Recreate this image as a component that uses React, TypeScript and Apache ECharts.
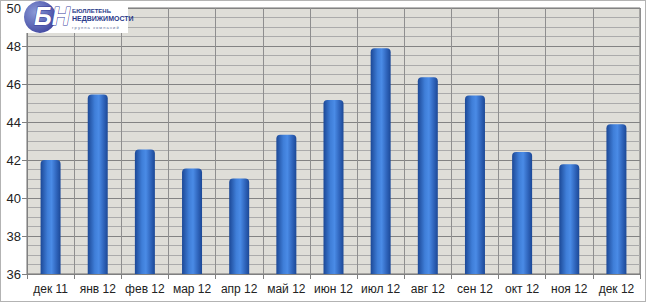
import React, { useEffect, useRef } from "react";
import * as echarts from "echarts";

const categories = ["дек 11", "янв 12", "фев 12", "мар 12", "апр 12", "май 12", "июн 12", "июл 12", "авг 12", "сен 12", "окт 12", "ноя 12", "дек 12"];
const values = [42.0, 45.45, 42.55, 41.55, 41.02, 43.33, 45.16, 47.88, 46.35, 45.4, 42.42, 41.78, 43.88];
const yMin = 36;
const yMax = 50;
const yStep = 2;

export default function App() {
  const ref = useRef<HTMLDivElement>(null);
  useEffect(() => {
    if (!ref.current) return;
    const chart = echarts.init(ref.current, null, { renderer: "svg" });
    const barGrad = new echarts.graphic.LinearGradient(0, 0, 1, 0, [
      { offset: 0, color: "#1c4896" },
      { offset: 0.35, color: "#3f7ed8" },
      { offset: 0.55, color: "#4a8be6" },
      { offset: 0.8, color: "#2f64bb" },
      { offset: 1, color: "#1c4896" },
    ]);
    chart.setOption({
      animation: false,
      backgroundColor: "#ffffff",
      textStyle: { fontFamily: "Liberation Sans, Arial, sans-serif" },
      grid: {
        left: 27,
        right: 7,
        top: 8,
        bottom: 29,
        show: true,
        backgroundColor: "#dfded8",
        borderColor: "#707070",
        borderWidth: 1,
      },
      xAxis: {
        type: "category",
        data: categories,
        boundaryGap: true,
        axisLine: { show: true, lineStyle: { color: "#808080" } },
        axisTick: { show: true, interval: 0, length: 5, lineStyle: { color: "#808080" } },
        axisLabel: { color: "#222", fontSize: 12, margin: 9, interval: 0 },
        splitLine: { show: true, interval: 0, lineStyle: { color: "#8f8f8f", width: 1 } },
      },
      yAxis: {
        type: "value",
        min: yMin,
        max: yMax,
        interval: yStep,
        axisLine: { show: true, lineStyle: { color: "#808080" } },
        axisTick: { show: true, length: 5, lineStyle: { color: "#808080" } },
        axisLabel: { color: "#222", fontSize: 13, margin: 6 },
        splitLine: { show: true, lineStyle: { color: "#838383", width: 1 } },
        minorTick: { show: false, splitNumber: 4 },
        minorSplitLine: { show: true, lineStyle: { color: "#ababab", width: 1 } },
      },
      series: [
        {
          type: "bar",
          data: values,
          barWidth: 20,
          itemStyle: { color: barGrad, borderRadius: [4, 4, 0, 0] },
        },
      ],
      graphic: [
        { type: "rect", shape: { x: 22, y: 0, width: 106, height: 33 }, style: { fill: "#ffffff" }, z: 100 },
        {
          type: "circle",
          shape: { cx: 40, cy: 17, r: 16 },
          style: {
            fill: new echarts.graphic.RadialGradient(0.35, 0.35, 0.8, [
              { offset: 0, color: "#8a9ad8" },
              { offset: 1, color: "#3a3f9a" },
            ]),
          },
          z: 101,
        },
        {
          type: "text",
          x: 34,
          y: 3,
          style: { text: "БН", fill: "#ffffff", stroke: "#3a3f9a", lineWidth: 1, font: "italic bold 25px Liberation Sans, Arial, sans-serif" },
          z: 102,
        },
        {
          type: "text",
          x: 72,
          y: 8,
          style: { text: "БЮЛЛЕТЕНЬ", fill: "#2a3a8a", font: "bold 6px Liberation Sans, Arial, sans-serif" },
          z: 102,
        },
        {
          type: "text",
          x: 72,
          y: 15,
          style: { text: "НЕДВИЖИМОСТИ", fill: "#2a3a8a", font: "bold 7px Liberation Sans, Arial, sans-serif" },
          z: 102,
        },
        {
          type: "text",
          x: 72,
          y: 25,
          style: { text: "г р у п п а   к о м п а н и й", fill: "#5a6a9a", font: "4px Liberation Sans, Arial, sans-serif" },
          z: 102,
        },
        {
          type: "rect",
          shape: { x: 0.5, y: 0.5, width: 645, height: 301 },
          style: { fill: "none", stroke: "#666", lineWidth: 1, lineDash: [1, 1] },
          z: 103,
        },
      ],
    });
    return () => chart.dispose();
  }, []);
  return <div ref={ref} style={{ position: "fixed", left: 0, top: 0, width: 647, height: 303 }} />;
}
